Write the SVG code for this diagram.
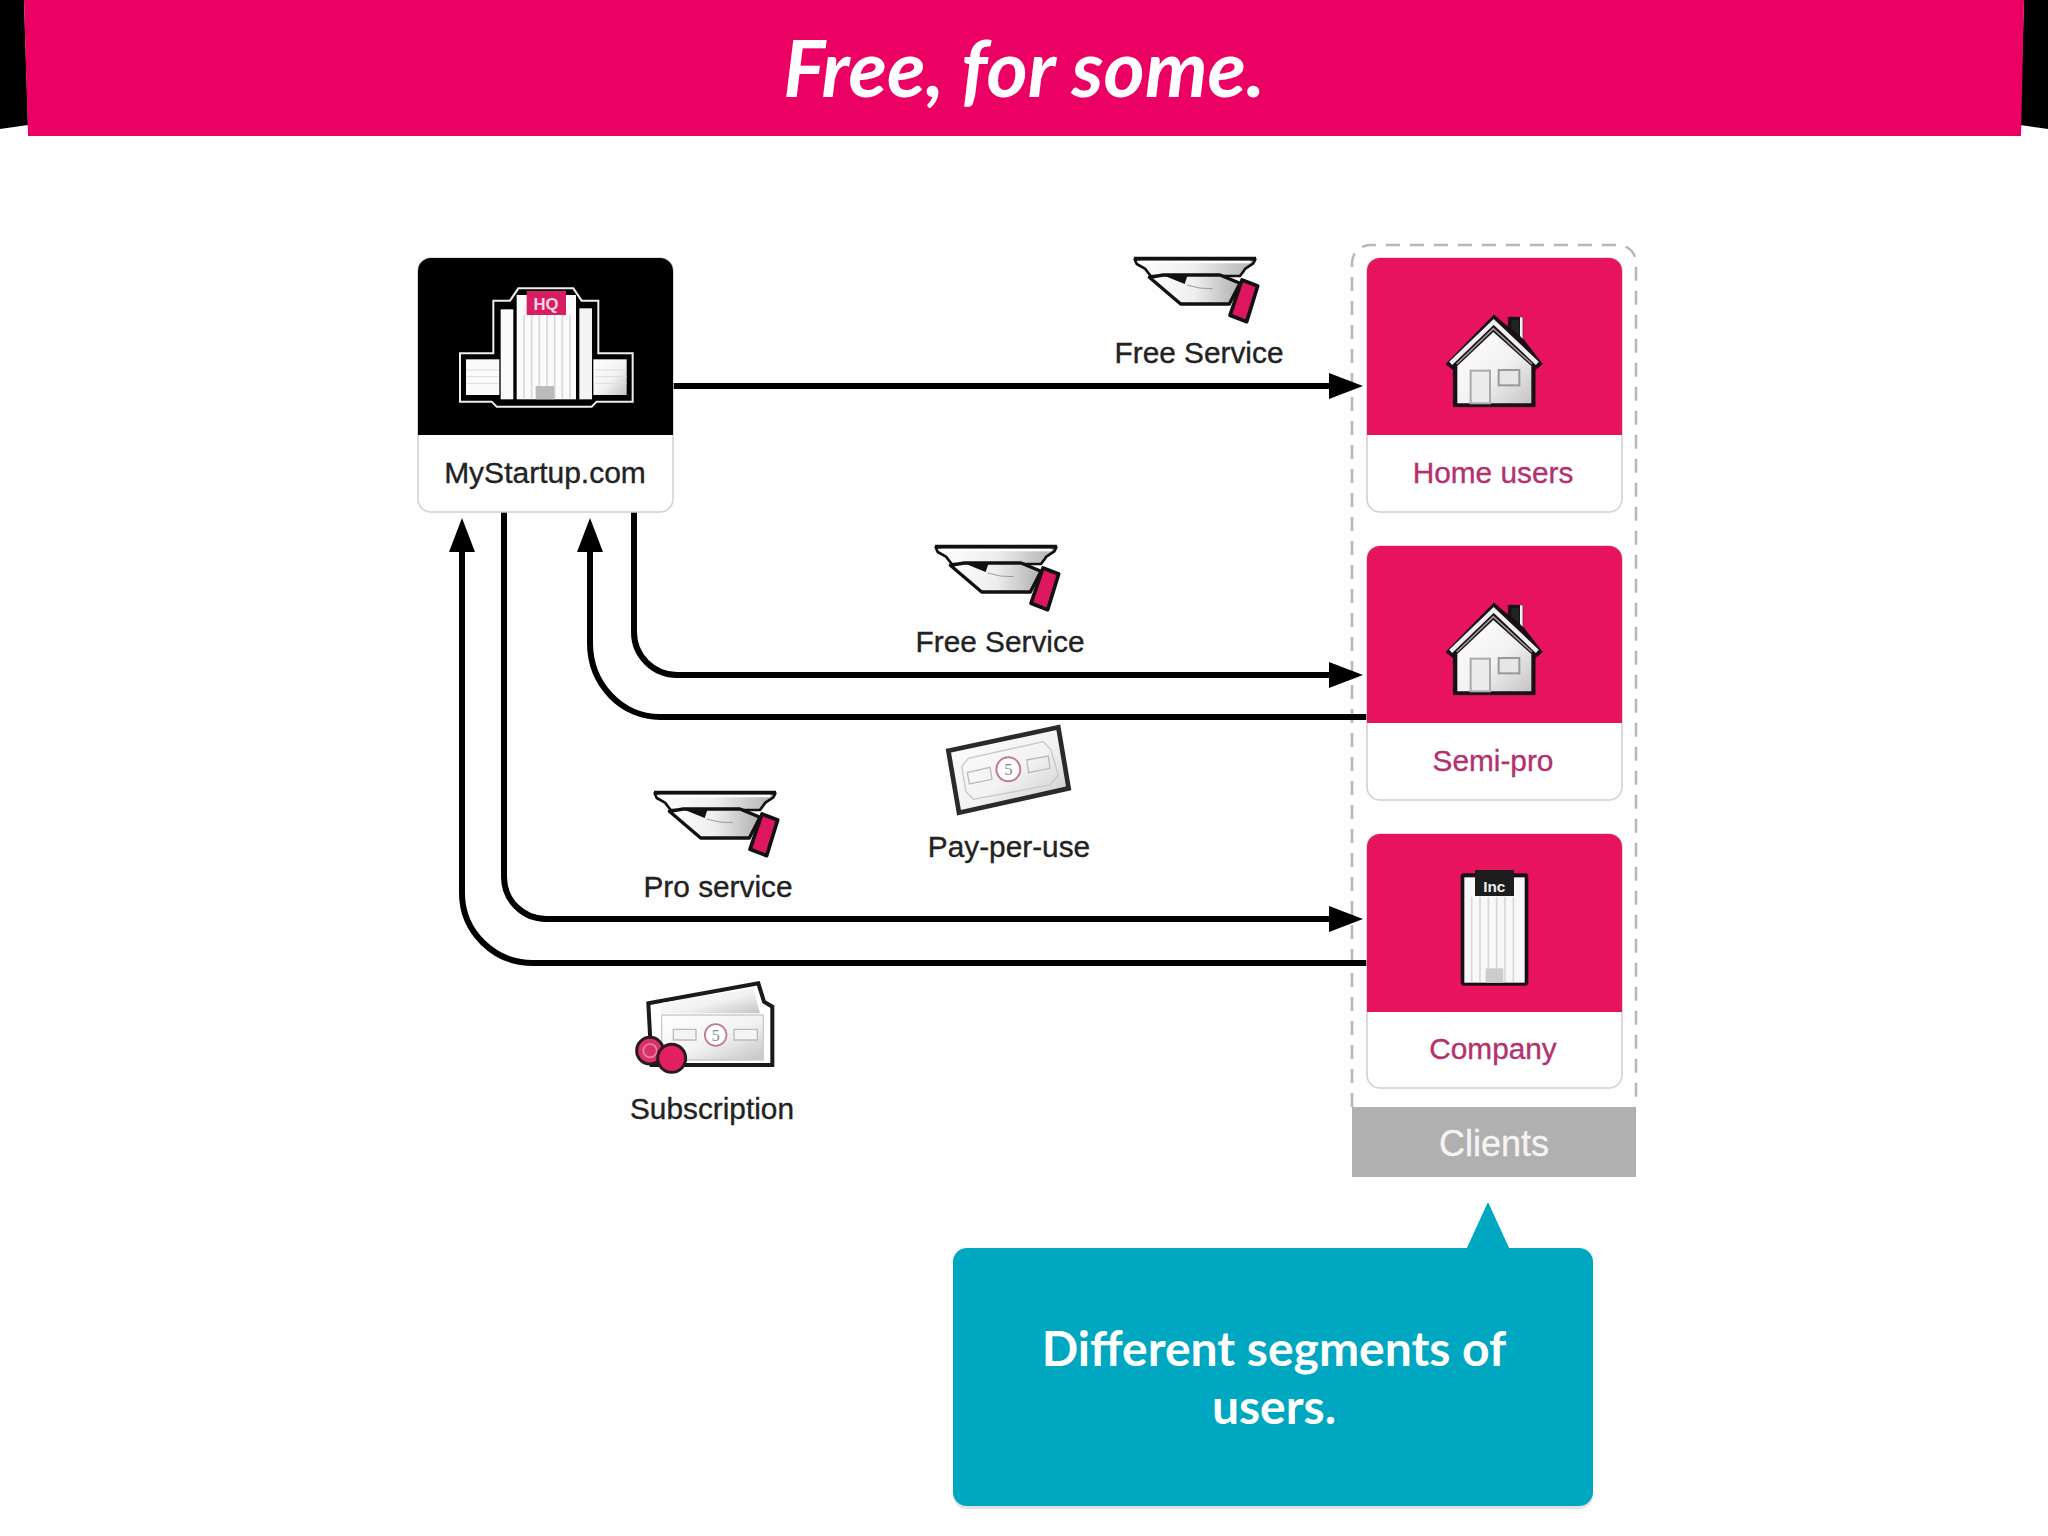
<svg xmlns="http://www.w3.org/2000/svg" width="2048" height="1536" viewBox="0 0 2048 1536">
<style>
.lbl{font-family:"Liberation Sans",Arial,sans-serif;font-size:29.8px;text-anchor:middle;fill:#222;stroke:#222;stroke-width:.35px}
.pk{fill:#b3316f;stroke:#b3316f}
.conn{fill:none;stroke:#000;stroke-width:6}
.card{fill:#fff;stroke:#d8ccd0;stroke-width:1.5}
.lato{font-family:Lato,"Noto Sans",sans-serif;fill:#fff;text-anchor:middle;font-weight:700}
.stripe{stroke:#d8d8d8;stroke-width:5;fill:none}
.ol{stroke:#111;stroke-linejoin:round}
</style>
<defs>
<linearGradient id="sheen" x1="0" y1="0" x2="1" y2="1"><stop offset="0" stop-color="#fff"/><stop offset=".55" stop-color="#f2f2f2"/><stop offset="1" stop-color="#c4c4c4"/></linearGradient>
<linearGradient id="handg" x1="0" y1="0" x2="1" y2="0"><stop offset="0" stop-color="#fff"/><stop offset=".5" stop-color="#eee"/><stop offset="1" stop-color="#b0b0b0"/></linearGradient>
<marker id="ah" markerUnits="userSpaceOnUse" markerWidth="34" markerHeight="26" refX="8" refY="13" orient="auto"><path d="M0 0L34 13L0 26Z" fill="#000"/></marker>
<g id="hand">
<path class="ol" d="M134 88H496L490 100L466 116L450 138H182L165 116L140 102Z" fill="url(#handg)" stroke-width="8"/>
<path d="M132 85H498" stroke="#111" stroke-width="10"/>
<path d="M150 96H482" stroke="#fff" stroke-width="7"/>
<path class="ol" d="M178 142L272 222H418L450 160L390 135H220Z" fill="url(#handg)" stroke-width="10"/>
<path d="M212 133H294L284 162Z" fill="#111"/>
<path d="M290 165Q330 178 368 176" stroke="#999" stroke-width="3" fill="none"/>
<path class="ol" d="M456 150L503 168L470 275L420 256Z" fill="#dd1660" stroke-width="11"/>
</g>
<g id="house">
<path d="M462 255L505 292V262H548V326L607 402L585 420V530H340V420L318 402Z" fill="#1a1014" stroke="#1a1014" stroke-width="3" stroke-linejoin="round"/>
<path d="M514 270H538V316L514 296Z" fill="#222"/>
<path d="M540 262H548V326L540 318Z" fill="#f2f2f2"/>
<path d="M352 408L460 306L574 408V520H352Z" fill="url(#sheen)"/>
<path d="M332 400L461 276L592 400" fill="none" stroke="#efefef" stroke-width="13"/>
<path d="M350 402L460 296L576 402" fill="none" stroke="#9a9a9a" stroke-width="5"/>
<rect x="392" y="422" width="58" height="98" fill="#ececec" stroke="#aaa" stroke-width="6"/>
<rect x="476" y="420" width="62" height="46" fill="#e6e6e6" stroke="#999" stroke-width="6"/>
</g>
<g id="note5">
<circle cx="0" cy="0" r="36" fill="#fff" stroke="#c07a96" stroke-width="6"/>
</g>
</defs>

<rect width="2048" height="1536" fill="#fefefe"/>

<g id="banner">
<path d="M0 0H24L28 125L0 129Z" fill="#000"/>
<path d="M2048 0H2024L2020 125L2048 129Z" fill="#000"/>
<path d="M24 0H2024L2021 136H28Z" fill="#eb0064"/>
<text x="1024" y="97" class="lato" font-style="italic" font-size="79">Free, for some.</text>
</g>

<g id="clients-group">
<path d="M1352 1107V263A18 18 0 0 1 1370 245H1618A18 18 0 0 1 1636 263V1107" fill="none" stroke="#b8b8b8" stroke-width="2.5" stroke-dasharray="14 10"/>
<rect x="1352" y="1107" width="284" height="70" fill="#b0b0b0"/>
<text x="1494" y="1156" class="lbl" style="font-size:36px;fill:#f4f4f4;stroke:#f4f4f4">Clients</text>
</g>

<g id="connectors">
<path class="conn" d="M673 386H1337" marker-end="url(#ah)"/>
<path class="conn" d="M634 512V632A43 43 0 0 0 677 675H1337" marker-end="url(#ah)"/>
<path class="conn" d="M1367 717H660A70 74 0 0 1 590 643V544" marker-end="url(#ah)"/>
<path class="conn" d="M504 512V877A42 42 0 0 0 546 919H1337" marker-end="url(#ah)"/>
<path class="conn" d="M1367 963H533A71 70 0 0 1 462 893V544" marker-end="url(#ah)"/>
</g>

<g id="node-mystartup">
<rect class="card" x="418" y="258" width="255" height="254" rx="13"/>
<path d="M418 435V271A13 13 0 0 1 431 258H660A13 13 0 0 1 673 271V435Z" fill="#000"/>
<g transform="translate(400 230) scale(.33333)">
<path d="M180 370H280V212H330L355 175H520L545 212H595V370H698V515H590L575 530H290L275 515H180Z" fill="#000" stroke="#eee" stroke-width="6"/>
<rect x="198" y="388" width="100" height="107" fill="#fafafa"/>
<rect x="580" y="388" width="100" height="107" fill="url(#sheen)"/>
<path d="M198 420H295M198 440H295M198 460H295M585 420H680M585 440H680M585 460H680" stroke="#ddd" stroke-width="3"/>
<rect x="302" y="238" width="38" height="270" fill="#fafafa"/>
<rect x="538" y="235" width="38" height="273" fill="#f4f4f4"/>
<rect x="350" y="195" width="178" height="313" fill="#fbfbfb"/>
<path class="stripe" d="M372 255V505M395 255V505M418 255V505M441 255V505M464 255V505M487 255V505M510 255V505"/>
<rect x="380" y="183" width="118" height="72" fill="#d81e63"/>
<text x="438" y="239" font-family="Liberation Sans,sans-serif" font-weight="700" font-size="50" fill="#f4d4e0" text-anchor="middle">HQ</text>
<rect x="407" y="468" width="56" height="40" fill="#bbb"/>
</g>
<text x="545" y="483" class="lbl" style="font-size:30px">MyStartup.com</text>
</g>

<g id="node-home-users">
<rect class="card" x="1367" y="258" width="255" height="254" rx="13"/>
<path d="M1367 435V271A13 13 0 0 1 1380 258H1609A13 13 0 0 1 1622 271V435Z" fill="#e8135f"/>
<use href="#house" transform="translate(1340 230) scale(.33333)"/>
<text x="1493" y="483" class="lbl pk">Home users</text>
</g>

<g id="node-semi-pro">
<rect class="card" x="1367" y="546" width="255" height="254" rx="13"/>
<path d="M1367 723V559A13 13 0 0 1 1380 546H1609A13 13 0 0 1 1622 559V723Z" fill="#e8135f"/>
<use href="#house" transform="translate(1340 518) scale(.33333)"/>
<text x="1493" y="771" class="lbl pk">Semi-pro</text>
</g>

<g id="node-company">
<rect class="card" x="1367" y="834" width="255" height="254" rx="13"/>
<path d="M1367 1012V847A13 13 0 0 1 1380 834H1609A13 13 0 0 1 1622 847V1012Z" fill="#e8135f"/>
<g transform="translate(1340 820) scale(.33333)">
<rect x="362" y="160" width="203" height="337" rx="10" fill="#1a1014"/>
<rect x="373" y="172" width="181" height="316" fill="#f8f8f8"/>
<path class="stripe" d="M395 230V485M420 230V485M445 230V485M470 230V485M495 230V485M520 230V485"/>
<rect x="405" y="150" width="117" height="78" fill="#1d1d1d"/>
<text x="463" y="215" font-family="Liberation Sans,sans-serif" font-weight="700" font-size="46" fill="#eee" text-anchor="middle">Inc</text>
<rect x="437" y="445" width="53" height="43" fill="#ccc"/>
</g>
<text x="1493" y="1059" class="lbl pk">Company</text>
</g>

<g id="label-free-service-1">
<use href="#hand" transform="translate(1090 230) scale(.33333)"/>
<text x="1199" y="363" class="lbl">Free Service</text>
</g>
<g id="label-free-service-2">
<use href="#hand" transform="translate(891 518) scale(.33333)"/>
<text x="1000" y="652" class="lbl">Free Service</text>
</g>
<g id="label-pro-service">
<use href="#hand" transform="translate(610 764) scale(.33333)"/>
<text x="718" y="897" class="lbl">Pro service</text>
</g>

<g id="label-pay-per-use">
<g transform="translate(930 710) scale(.33333)">
<path d="M55 122L385 52L416 235L87 308Z" fill="url(#sheen)" stroke="#2a2a2a" stroke-width="14" stroke-linejoin="miter"/>
<path d="M95 170L115 145L340 95L362 118L385 195L360 225L130 268L108 245Z" fill="none" stroke="#c8c8c8" stroke-width="4"/>
<path d="M112 188L180 172L186 208L118 222ZM290 150L355 138L360 175L296 188Z" fill="none" stroke="#bbb" stroke-width="4"/>
<use href="#note5" transform="translate(235 178)"/>
<text x="235" y="196" font-family="Liberation Serif,serif" font-size="50" fill="#888" text-anchor="middle">5</text>
</g>
<text x="1009" y="857" class="lbl">Pay-per-use</text>
</g>

<g id="label-subscription">
<g transform="translate(610 960) scale(.33333)">
<path d="M115 130L445 70L462 125L487 140V315H125Z" fill="#fff" stroke="#1a1a1a" stroke-width="12" stroke-linejoin="miter"/>
<path d="M150 130L430 85L450 160H155Z" fill="url(#sheen)"/>
<path d="M155 165H460V300H200L155 250Z" fill="url(#sheen)" stroke="#ccc" stroke-width="4"/>
<path d="M190 208H258V240H190ZM372 208H442V240H372Z" fill="#f4f4f4" stroke="#bbb" stroke-width="4"/>
<use href="#note5" transform="translate(317 225) scale(.9)"/>
<text x="317" y="243" font-family="Liberation Serif,serif" font-size="48" fill="#888" text-anchor="middle">5</text>
<circle cx="120" cy="272" r="40" fill="#d8326b" stroke="#2a1a20" stroke-width="9"/>
<circle cx="120" cy="272" r="20" fill="none" stroke="#f07aa0" stroke-width="5"/>
<circle cx="185" cy="295" r="42" fill="#e21f63" stroke="#2a1a20" stroke-width="9"/>
</g>
<text x="712" y="1119" class="lbl">Subscription</text>
</g>

<g id="callout">
<path d="M1488 1202L1510 1250H1466Z" fill="#00a7c0"/>
<rect x="953" y="1248" width="640" height="259" rx="14" fill="#e2e2e2" transform="translate(0 2)"/>
<rect x="953" y="1248" width="640" height="258" rx="14" fill="#00a7c0"/>
<text x="1274" y="1366" class="lato" font-size="48">Different segments of</text>
<text x="1274" y="1424" class="lato" font-size="48">users.</text>
</g>
</svg>
